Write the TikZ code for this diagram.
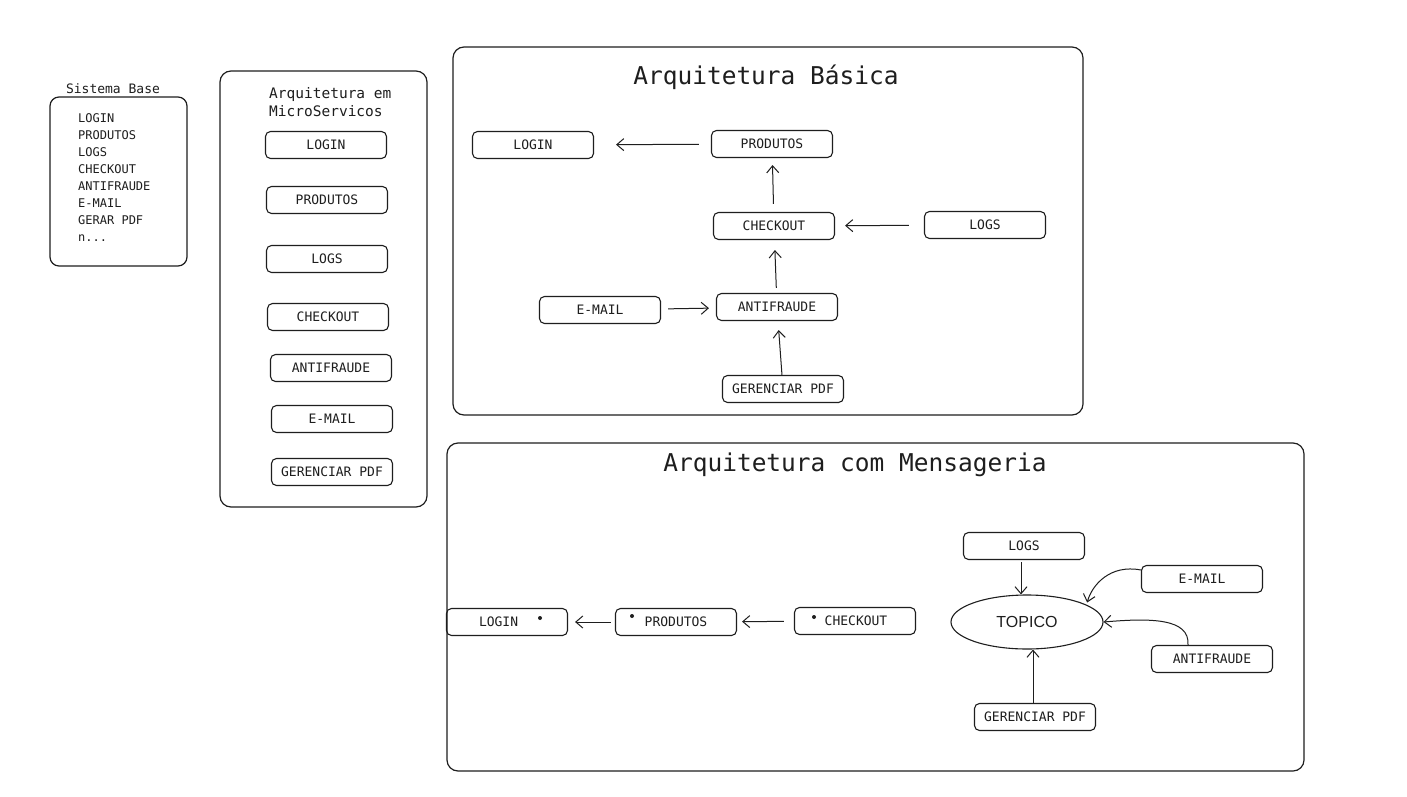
\documentclass[tikz,border=0pt]{standalone}
\usepackage{fontspec}
\setmonofont{DejaVu Sans Mono}
\setsansfont{Liberation Sans}
\usetikzlibrary{arrows.meta,shapes.geometric}
\definecolor{ink}{RGB}{30,30,30}
\tikzset{
  frame/.style={draw=ink,line width=1.2pt,rounded corners=11pt},
  svc/.style={draw=ink,line width=1.1pt,rounded corners=5pt,minimum width=121pt,
    minimum height=27pt,inner sep=0pt,font=\ttfamily\fontsize{13}{15}\selectfont,text=ink},
  arr/.style={draw=ink,line width=1pt,-{Straight Barb[length=7pt,width=12pt]}},
  title/.style={font=\ttfamily\fontsize{24.5}{28}\selectfont,text=ink},
}

\begin{document}
\begin{tikzpicture}[x=1pt,y=-1pt]
\useasboundingbox[fill=white] (0,0) rectangle (1407,797);

\draw[frame,rounded corners=9pt] (50,97) rectangle (187,266);
\node[font=\ttfamily\fontsize{13}{15}\selectfont,text=ink] (basetitle) at (113,89) {Sistema Base};
\node[anchor=north west,align=left,inner sep=0pt,text=ink,
  font=\ttfamily\fontsize{12}{17}\selectfont] (baselist) at (78,113)
  {LOGIN\\PRODUTOS\\LOGS\\CHECKOUT\\ANTIFRAUDE\\E-MAIL\\GERAR PDF\\n...};

\draw[frame] (220,71) rectangle (427,507);
\node[anchor=north west,align=left,inner sep=0pt,text=ink,
  font=\ttfamily\fontsize{14.5}{18}\selectfont] (microtitle) at (269,87)
  {Arquitetura em\\MicroServicos};
\node[svc] (ulogin) at (326,145) {LOGIN};
\node[svc] (uprod) at (327,200) {PRODUTOS};
\node[svc] (ulogs) at (327,259) {LOGS};
\node[svc] (uchk) at (328,317) {CHECKOUT};
\node[svc] (uanti) at (331,368) {ANTIFRAUDE};
\node[svc] (umail) at (332,419) {E-MAIL};
\node[svc] (updf) at (332,472) {GERENCIAR PDF};

\draw[frame] (453,47) rectangle (1083,415);
\node[title] (basictitle) at (766,77) {Arquitetura Básica};
\node[svc] (blogin) at (533,145) {LOGIN};
\node[svc] (bprod) at (772,144) {PRODUTOS};
\node[svc] (bchk) at (774,226) {CHECKOUT};
\node[svc] (blogs) at (985,225) {LOGS};
\node[svc] (bmail) at (600,310) {E-MAIL};
\node[svc] (banti) at (777,307) {ANTIFRAUDE};
\node[svc] (bpdf) at (783,389) {GERENCIAR PDF};
\draw[arr,shorten <=12pt,shorten >=22pt] (bprod) -- (blogin);
\draw[arr,shorten <=8pt,shorten >=7pt] (bchk) -- (bprod);
\draw[arr,shorten <=15pt,shorten >=10pt] (blogs) -- (bchk);
\draw[arr,shorten <=5pt,shorten >=10pt] (banti) -- (bchk);
\draw[arr,shorten <=7pt,shorten >=7pt] (bmail) -- (banti);
\draw[arr,shorten >=9pt] (bpdf) -- (banti);

\draw[frame] (447,443) rectangle (1304,771);
\node[title] (msgtitle) at (855,465) {Arquitetura com Mensageria};
\node[svc,text width=100pt,align=left] (mlogin) at (507,622) {\hspace*{22pt}LOGIN};
\node[svc] (mprod) at (676,622) {PRODUTOS};
\node[svc] (mchk) at (855,621) {\hspace*{2pt}CHECKOUT};
\fill[ink] ([xshift=33pt,yshift=4pt]mlogin.center) circle (2pt);
\fill[ink] ([xshift=-44pt,yshift=6pt]mprod.center) circle (2pt);
\fill[ink] ([xshift=-41pt,yshift=4pt]mchk.center) circle (2pt);
\draw[arr,shorten <=4pt,shorten >=7pt] (mprod) -- (mlogin);
\draw[arr,shorten <=10pt,shorten >=5pt] (mchk) -- (mprod);

\node[ellipse,draw=ink,line width=1.1pt,minimum width=152pt,minimum height=54pt,
  inner sep=0pt,font=\sffamily\fontsize{16}{18}\selectfont,text=ink] (mtopic) at (1027,622) {TOPICO};
\node[svc] (mlogs) at (1024,546) {LOGS};
\node[svc] (mmail) at (1202,579) {E-MAIL};
\node[svc] (manti) at (1212,659) {ANTIFRAUDE};
\node[svc] (mpdf) at (1035,717) {GERENCIAR PDF};
\draw[arr,shorten <=2pt] ([xshift=-3pt]mlogs.south) -- ([xshift=-6pt]mtopic.north);
\draw[arr] ([xshift=-2pt]mpdf.north) -- ([xshift=6pt]mtopic.south);
\draw[arr] ([yshift=9pt]mmail.west) .. controls (1110,564) and (1092,585) .. ([xshift=6pt]mtopic.north east);
\draw[arr] ([xshift=-24pt]manti.north) .. controls (1190,618) and (1150,618) .. (mtopic.east);
\end{tikzpicture}
\end{document}
